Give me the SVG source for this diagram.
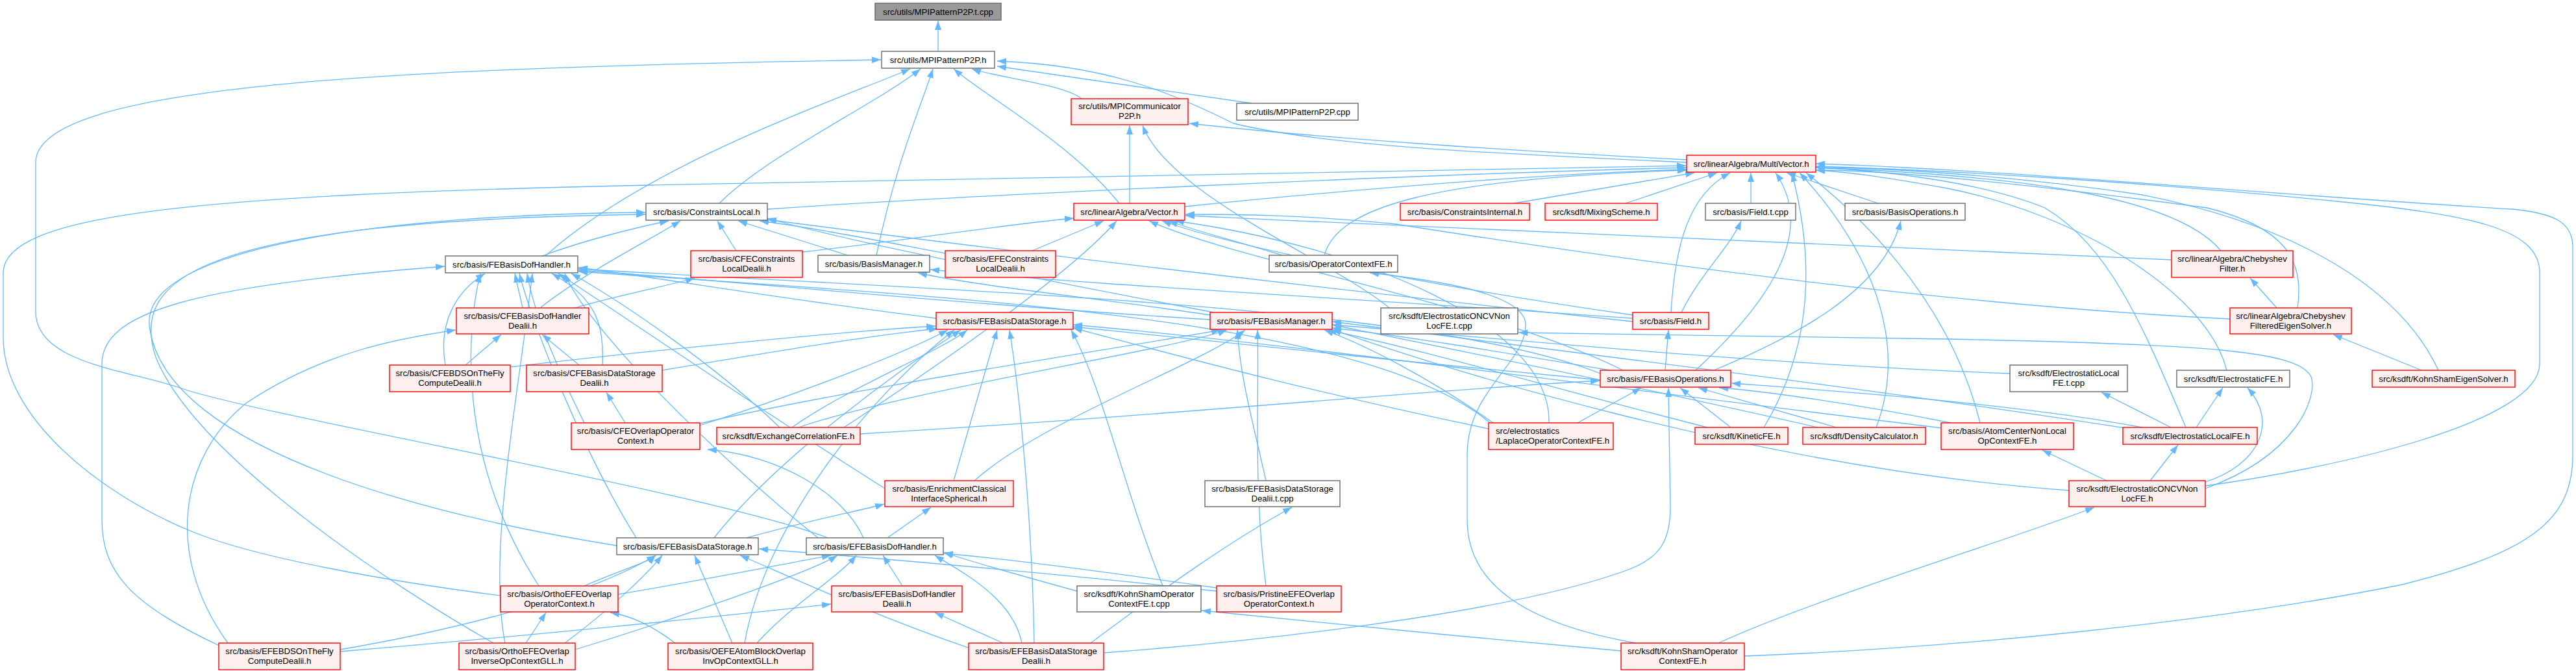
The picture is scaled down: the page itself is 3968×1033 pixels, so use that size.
<svg xmlns="http://www.w3.org/2000/svg" width="3968" height="1033" viewBox="0 0 3968 1033">
<defs>
<marker id="a" markerWidth="14" markerHeight="10" refX="14" refY="5" orient="auto" markerUnits="userSpaceOnUse"><path d="M0,0 L14,5 L0,10 z" fill="#63b8ff"/></marker>
<style>
rect{stroke-width:1.4}
.n{fill:#ffffff;stroke:#666666}
.r{fill:#fff0f0;stroke:#ff0000}
.root{fill:#999999;stroke:#666666}
text{font-family:"Liberation Sans",Arial,Helvetica,sans-serif;font-size:13.2px;fill:#000000;text-anchor:middle}
text.l{text-anchor:start}
#edges path{fill:none;stroke:#63b8ff;stroke-width:1.3;marker-end:url(#a)}
</style>
</defs>
<rect x="0" y="0" width="3968" height="1033" fill="#ffffff"/>
<g id="edges">
<path d="M1445,79 L1445,32"/>
<path d="M1666,152 C1640,130 1530,118 1497,106"/>
<path d="M1928,159 L1536,102"/>
<path d="M2598,250 C2300,236 2050,226 1900,190 C1800,140 1700,100 1536,94"/>
<path d="M2598,246 C2300,230 2050,214 1832,190"/>
<path d="M1108,313 C1180,240 1350,160 1418,106"/>
<path d="M1182,322 C1500,300 2200,268 2598,258"/>
<path d="M1724,313 C1650,220 1520,150 1469,106"/>
<path d="M1740,313 L1740,193"/>
<path d="M1825,318 C2100,290 2400,266 2598,261"/>
<path d="M2332,313 L2610,266"/>
<path d="M2504,313 L2645,266"/>
<path d="M2697,313 L2697,266"/>
<path d="M2893,313 L2752,266"/>
<path d="M2574,481 C2580,380 2600,300 2665,266"/>
<path d="M2590,481 C2620,420 2665,380 2682,340"/>
<path d="M2612,570 C2720,470 2800,360 2735,266"/>
<path d="M2565,570 L2570,508"/>
<path d="M2640,570 C2760,520 2900,450 2928,340"/>
<path d="M2430,651 L2528,597"/>
<path d="M2666,658 L2588,597"/>
<path d="M2829,658 L2616,597"/>
<path d="M3005,651 C2850,620 2700,600 2648,597"/>
<path d="M1325,668 C1800,640 2200,600 2464,586"/>
<path d="M3300,658 C3100,620 2800,600 2667,590"/>
<path d="M3383,658 L3424,597"/>
<path d="M3344,658 L3237,604"/>
<path d="M3367,658 C3300,500 3250,380 3150,320 C3050,280 2900,262 2797,258"/>
<path d="M3312,740 L3355,685"/>
<path d="M3245,740 L3146,693"/>
<path d="M3397,742 C3480,715 3510,650 3462,597"/>
<path d="M3397,752 C3540,700 3570,610 3560,580 C3540,540 3400,530 3000,522 C2700,516 2500,514 2339,512"/>
<path d="M3397,748 C3600,720 3912,650 3912,560 L3912,420 C3912,350 3800,330 3600,310 C3300,280 3000,262 2797,256"/>
<path d="M2647,990 C2800,920 3100,830 3226,781"/>
<path d="M2497,1002 C2300,985 2000,955 1851,940"/>
<path d="M2687,1010 C3000,998 3400,960 3700,900 C3900,850 3963,800 3963,700 L3963,380 C3963,340 3930,328 3870,322 C3500,300 3100,262 2797,252"/>
<path d="M2520,990 C2350,960 2260,900 2260,800 L2260,700 C2260,600 2350,560 2350,500 C2350,450 2200,430 2110,420"/>
<path d="M3507,474 L3466,428"/>
<path d="M3539,474 C3550,400 3520,350 3400,320 C3100,280 2900,262 2797,262"/>
<path d="M3435,491 C3000,470 2500,400 2150,345 C2000,330 1900,330 1826,330"/>
<path d="M3730,570 L3594,515"/>
<path d="M3756,570 C3700,450 3550,350 3300,300 C3100,270 2900,258 2797,258"/>
<path d="M3421,386 C3350,300 3100,270 2797,258"/>
<path d="M3345,400 C3000,385 2500,360 2000,340 C1900,336 1860,333 1826,332"/>
<path d="M2040,393 C2060,320 2200,275 2598,262"/>
<path d="M1975,393 C1900,370 1840,355 1800,340"/>
<path d="M840,394 C1000,250 1300,150 1402,106"/>
<path d="M835,394 C900,370 980,350 1030,340"/>
<path d="M1350,393 C1380,250 1420,160 1437,106"/>
<path d="M1306,393 L1137,340"/>
<path d="M1134,386 L1105,340"/>
<path d="M1236,388 C1400,370 1550,345 1654,336"/>
<path d="M1456,390 C1350,370 1250,350 1170,340"/>
<path d="M1590,386 L1700,340"/>
<path d="M805,474 L793,421"/>
<path d="M832,474 C900,420 1000,370 1048,340"/>
<path d="M882,475 C950,455 1030,440 1070,428"/>
<path d="M1442,490 C1200,460 1000,425 891,412"/>
<path d="M1864,492 C1500,470 1100,430 891,416"/>
<path d="M2465,575 C2200,470 1500,450 891,414"/>
<path d="M2300,655 C2100,480 1400,455 891,418"/>
<path d="M1864,485 C1700,460 1500,440 1414,420"/>
<path d="M1870,481 C1600,430 1300,370 1182,336"/>
<path d="M2515,490 C2100,460 1700,440 1433,415"/>
<path d="M2515,495 C2000,440 1500,380 1182,338"/>
<path d="M2515,485 C2200,440 1900,380 1790,340"/>
<path d="M717,562 L772,515"/>
<path d="M686,562 C675,500 700,450 747,421"/>
<path d="M786,565 C1000,540 1300,510 1441,502"/>
<path d="M892,562 L835,515"/>
<path d="M928,562 C930,500 920,460 850,421"/>
<path d="M1020,570 C1200,540 1350,515 1445,506"/>
<path d="M963,651 L934,604"/>
<path d="M1078,655 C1250,600 1400,540 1460,508"/>
<path d="M900,651 C850,550 820,470 812,421"/>
<path d="M1078,652 C1300,600 1700,540 1880,508"/>
<path d="M1330,828 C1300,760 1200,700 1090,692"/>
<path d="M1220,658 C1300,600 1450,540 1490,508"/>
<path d="M1230,658 C1400,600 1800,540 1890,508"/>
<path d="M1201,658 C1100,560 950,460 880,421"/>
<path d="M2293,660 C2000,600 1750,530 1653,505"/>
<path d="M2300,651 C2200,580 2100,530 2040,508"/>
<path d="M2386,651 C2390,500 2100,380 1810,340"/>
<path d="M2630,658 C2400,600 2200,540 2045,508"/>
<path d="M2717,658 C2800,520 2790,380 2760,266"/>
<path d="M2800,658 C2500,590 2200,530 2052,500"/>
<path d="M2890,658 C2950,500 2850,350 2772,266"/>
<path d="M3000,660 C2500,600 2000,530 1653,500"/>
<path d="M3050,651 C3000,450 2850,320 2782,266"/>
<path d="M3280,660 C2900,600 2400,540 2052,495"/>
<path d="M3430,570 C3400,450 3200,330 3000,290 C2900,272 2850,265 2797,262"/>
<path d="M3096,575 C2700,560 2300,520 2052,500"/>
<path d="M3187,755 C2700,720 2200,560 2052,507"/>
<path d="M1469,740 L1536,508"/>
<path d="M1501,740 C1600,650 1850,560 1918,508"/>
<path d="M1363,752 C1200,650 950,480 860,421"/>
<path d="M1950,740 C1930,650 1910,580 1906,508"/>
<path d="M1100,828 C1200,700 1400,560 1480,508"/>
<path d="M980,828 C900,700 820,500 800,421"/>
<path d="M1150,828 C1250,800 1330,785 1362,776"/>
<path d="M1367,828 L1434,781"/>
<path d="M1275,828 C1100,760 400,640 280,598 C200,570 55,560 55,480 L55,250 C55,130 600,105 1357,92"/>
<path d="M1260,828 C1100,700 900,500 870,421"/>
<path d="M950,840 C700,800 250,700 230,500 C220,380 600,330 994,327"/>
<path d="M1390,902 L1360,855"/>
<path d="M1574,990 C1560,920 1480,880 1440,855"/>
<path d="M1545,990 L1440,943"/>
<path d="M1500,1000 C1350,950 1200,880 1140,855"/>
<path d="M1680,990 C1800,900 1900,830 1990,781"/>
<path d="M1593,990 C1590,800 1570,600 1555,508"/>
<path d="M1700,1005 C1900,990 2300,950 2500,880 C2560,860 2573,830 2573,780 L2570,597"/>
<path d="M1166,990 C1220,930 1290,890 1319,855"/>
<path d="M1128,990 L1070,855"/>
<path d="M1040,990 C1000,960 970,948 940,943"/>
<path d="M1147,990 C1180,800 1350,600 1470,508"/>
<path d="M810,990 L841,943"/>
<path d="M886,1000 C1050,950 1250,880 1290,855"/>
<path d="M870,990 C950,930 1000,880 1020,855"/>
<path d="M778,990 C750,850 800,600 820,421"/>
<path d="M952,915 C1100,890 1250,860 1280,855"/>
<path d="M900,902 C950,880 1000,865 1010,855"/>
<path d="M830,902 C700,700 720,500 740,421"/>
<path d="M771,917 C600,895 400,860 300,820 C150,760 5,640 5,520 L5,420 C5,330 300,300 1000,285 C1800,268 2300,258 2597,255"/>
<path d="M351,990 C250,850 280,700 380,620 C500,540 620,520 702,508"/>
<path d="M340,995 C200,930 157,880 157,800 L157,560 C157,480 300,440 685,410"/>
<path d="M524,1000 C700,970 900,920 1010,855"/>
<path d="M524,1003 C800,980 1100,950 1280,930"/>
<path d="M1874,905 C1700,880 1550,860 1454,852"/>
<path d="M1874,910 C1600,880 1300,855 1169,845"/>
<path d="M1950,902 C1930,750 1940,600 1937,508"/>
<path d="M1659,910 C1550,880 1480,860 1454,850"/>
<path d="M1791,902 C1730,750 1700,600 1650,508"/>
<path d="M760,990 C600,900 300,700 240,550 C200,430 300,340 994,330"/>
<path d="M2140,474 C2050,400 1800,300 1760,193"/>
<path d="M2500,570 C2300,470 1900,400 1770,340"/>
<path d="M1300,658 C1450,560 1650,420 1720,340"/>
<path d="M2465,585 C2200,560 1800,520 1653,503"/>
<path d="M2480,570 C2300,540 2150,515 2052,505"/>
</g>
<g id="n0"><rect class="root" x="1348" y="5" width="194" height="26"/><text x="1445" y="22.5">src/utils/MPIPatternP2P.t.cpp</text></g>
<g id="n1"><rect class="n" x="1358" y="79" width="174" height="26"/><text x="1445" y="96.5">src/utils/MPIPatternP2P.h</text></g>
<g id="n2"><rect class="r" x="1650" y="152" width="180" height="40"/><text x="1740" y="168">src/utils/MPICommunicator</text><text x="1740" y="183">P2P.h</text></g>
<g id="n3"><rect class="n" x="1905" y="159" width="187" height="26"/><text x="1998.5" y="176.5">src/utils/MPIPatternP2P.cpp</text></g>
<g id="n4"><rect class="r" x="2598" y="239" width="199" height="26"/><text x="2697.5" y="256.5">src/linearAlgebra/MultiVector.h</text></g>
<g id="n5"><rect class="n" x="995" y="313" width="187" height="26"/><text x="1088.5" y="330.5">src/basis/ConstraintsLocal.h</text></g>
<g id="n6"><rect class="r" x="1654" y="313" width="171" height="26"/><text x="1739.5" y="330.5">src/linearAlgebra/Vector.h</text></g>
<g id="n7"><rect class="r" x="2157" y="313" width="199" height="26"/><text x="2256.5" y="330.5">src/basis/ConstraintsInternal.h</text></g>
<g id="n8"><rect class="r" x="2380" y="313" width="173" height="26"/><text x="2466.5" y="330.5">src/ksdft/MixingScheme.h</text></g>
<g id="n9"><rect class="n" x="2627" y="313" width="139" height="26"/><text x="2696.5" y="330.5">src/basis/Field.t.cpp</text></g>
<g id="n10"><rect class="n" x="2842" y="313" width="185" height="26"/><text x="2934.5" y="330.5">src/basis/BasisOperations.h</text></g>
<g id="n11"><rect class="n" x="686" y="394" width="204" height="26"/><text x="788" y="411.5">src/basis/FEBasisDofHandler.h</text></g>
<g id="n12"><rect class="r" x="1064" y="386" width="172" height="41"/><text x="1150" y="402.5">src/basis/CFEConstraints</text><text x="1150" y="417.5">LocalDealii.h</text></g>
<g id="n13"><rect class="n" x="1260" y="393" width="172" height="26"/><text x="1346" y="410.5">src/basis/BasisManager.h</text></g>
<g id="n14"><rect class="r" x="1456" y="386" width="170" height="41"/><text x="1541" y="402.5">src/basis/EFEConstraints</text><text x="1541" y="417.5">LocalDealii.h</text></g>
<g id="n15"><rect class="n" x="1955" y="393" width="198" height="26"/><text x="2054" y="410.5">src/basis/OperatorContextFE.h</text></g>
<g id="n16"><rect class="r" x="3345" y="386" width="187" height="41"/><text x="3438.5" y="402.5">src/linearAlgebra/Chebyshev</text><text x="3438.5" y="417.5">Filter.h</text></g>
<g id="n17"><rect class="r" x="703" y="474" width="204" height="40"/><text x="805" y="490.5">src/basis/CFEBasisDofHandler</text><text x="805" y="505.5">Dealii.h</text></g>
<g id="n18"><rect class="r" x="1442" y="481" width="211" height="26"/><text x="1547.5" y="498.5">src/basis/FEBasisDataStorage.h</text></g>
<g id="n19"><rect class="r" x="1864" y="481" width="188" height="26"/><text x="1958" y="498.5">src/basis/FEBasisManager.h</text></g>
<g id="n20"><rect class="n" x="2127" y="474" width="211" height="40"/><text x="2232.5" y="490.5">src/ksdft/ElectrostaticONCVNon</text><text x="2232.5" y="505.5">LocFE.t.cpp</text></g>
<g id="n21"><rect class="r" x="2515" y="481" width="117" height="26"/><text x="2573.5" y="498.5">src/basis/Field.h</text></g>
<g id="n22"><rect class="r" x="3435" y="474" width="187" height="40"/><text x="3528.5" y="490.5">src/linearAlgebra/Chebyshev</text><text x="3528.5" y="505.5">FilteredEigenSolver.h</text></g>
<g id="n23"><rect class="r" x="600" y="562" width="186" height="41"/><text x="693" y="578.5">src/basis/CFEBDSOnTheFly</text><text x="693" y="593.5">ComputeDealii.h</text></g>
<g id="n24"><rect class="r" x="811" y="562" width="209" height="41"/><text x="915.5" y="578.5">src/basis/CFEBasisDataStorage</text><text x="915.5" y="593.5">Dealii.h</text></g>
<g id="n25"><rect class="r" x="2465" y="570" width="201" height="26"/><text x="2565.5" y="587.5">src/basis/FEBasisOperations.h</text></g>
<g id="n26"><rect class="n" x="3096" y="562" width="181" height="41"/><text x="3186.5" y="578.5">src/ksdft/ElectrostaticLocal</text><text x="3186.5" y="593.5">FE.t.cpp</text></g>
<g id="n27"><rect class="n" x="3353" y="570" width="174" height="26"/><text x="3440" y="587.5">src/ksdft/ElectrostaticFE.h</text></g>
<g id="n28"><rect class="r" x="3654" y="570" width="220" height="26"/><text x="3764" y="587.5">src/ksdft/KohnShamEigenSolver.h</text></g>
<g id="n29"><rect class="r" x="880" y="651" width="198" height="41"/><text x="979" y="667.5">src/basis/CFEOverlapOperator</text><text x="979" y="682.5">Context.h</text></g>
<g id="n30"><rect class="r" x="1104" y="658" width="221" height="26"/><text x="1214.5" y="675.5">src/ksdft/ExchangeCorrelationFE.h</text></g>
<g id="n31"><rect class="r" x="2293" y="651" width="192" height="41"/><text class="l" x="2304" y="667.5">src/electrostatics</text><text class="l" x="2304" y="682.5">/LaplaceOperatorContextFE.h</text></g>
<g id="n32"><rect class="r" x="2611" y="658" width="143" height="26"/><text x="2682.5" y="675.5">src/ksdft/KineticFE.h</text></g>
<g id="n33"><rect class="r" x="2777" y="658" width="189" height="26"/><text x="2871.5" y="675.5">src/ksdft/DensityCalculator.h</text></g>
<g id="n34"><rect class="r" x="2990" y="651" width="204" height="41"/><text x="3092" y="667.5">src/basis/AtomCenterNonLocal</text><text x="3092" y="682.5">OpContextFE.h</text></g>
<g id="n35"><rect class="r" x="3270" y="658" width="207" height="26"/><text x="3373.5" y="675.5">src/ksdft/ElectrostaticLocalFE.h</text></g>
<g id="n36"><rect class="r" x="1363" y="740" width="198" height="40"/><text x="1462" y="756.5">src/basis/EnrichmentClassical</text><text x="1462" y="771.5">InterfaceSpherical.h</text></g>
<g id="n37"><rect class="n" x="1856" y="740" width="208" height="40"/><text x="1960" y="756.5">src/basis/EFEBasisDataStorage</text><text x="1960" y="771.5">Dealii.t.cpp</text></g>
<g id="n38"><rect class="r" x="3187" y="740" width="210" height="40"/><text x="3292" y="756.5">src/ksdft/ElectrostaticONCVNon</text><text x="3292" y="771.5">LocFE.h</text></g>
<g id="n39"><rect class="n" x="950" y="828" width="218" height="26"/><text x="1059" y="845.5">src/basis/EFEBasisDataStorage.h</text></g>
<g id="n40"><rect class="n" x="1242" y="828" width="211" height="26"/><text x="1347.5" y="845.5">src/basis/EFEBasisDofHandler.h</text></g>
<g id="n41"><rect class="r" x="771" y="902" width="181" height="40"/><text x="861.5" y="918.5">src/basis/OrthoEFEOverlap</text><text x="861.5" y="933.5">OperatorContext.h</text></g>
<g id="n42"><rect class="r" x="1281" y="902" width="201" height="40"/><text x="1381.5" y="918.5">src/basis/EFEBasisDofHandler</text><text x="1381.5" y="933.5">Dealii.h</text></g>
<g id="n43"><rect class="n" x="1659" y="902" width="191" height="40"/><text x="1754.5" y="918.5">src/ksdft/KohnShamOperator</text><text x="1754.5" y="933.5">ContextFE.t.cpp</text></g>
<g id="n44"><rect class="r" x="1874" y="902" width="192" height="40"/><text x="1970" y="918.5">src/basis/PristineEFEOverlap</text><text x="1970" y="933.5">OperatorContext.h</text></g>
<g id="n45"><rect class="r" x="337" y="990" width="187" height="41"/><text x="430.5" y="1006.5">src/basis/EFEBDSOnTheFly</text><text x="430.5" y="1021.5">ComputeDealii.h</text></g>
<g id="n46"><rect class="r" x="707" y="990" width="179" height="41"/><text x="796.5" y="1006.5">src/basis/OrthoEFEOverlap</text><text x="796.5" y="1021.5">InverseOpContextGLL.h</text></g>
<g id="n47"><rect class="r" x="1029" y="990" width="223" height="41"/><text x="1140.5" y="1006.5">src/basis/OEFEAtomBlockOverlap</text><text x="1140.5" y="1021.5">InvOpContextGLL.h</text></g>
<g id="n48"><rect class="r" x="1492" y="990" width="208" height="41"/><text x="1596" y="1006.5">src/basis/EFEBasisDataStorage</text><text x="1596" y="1021.5">Dealii.h</text></g>
<g id="n49"><rect class="r" x="2497" y="990" width="190" height="41"/><text x="2592" y="1006.5">src/ksdft/KohnShamOperator</text><text x="2592" y="1021.5">ContextFE.h</text></g>
</svg>
